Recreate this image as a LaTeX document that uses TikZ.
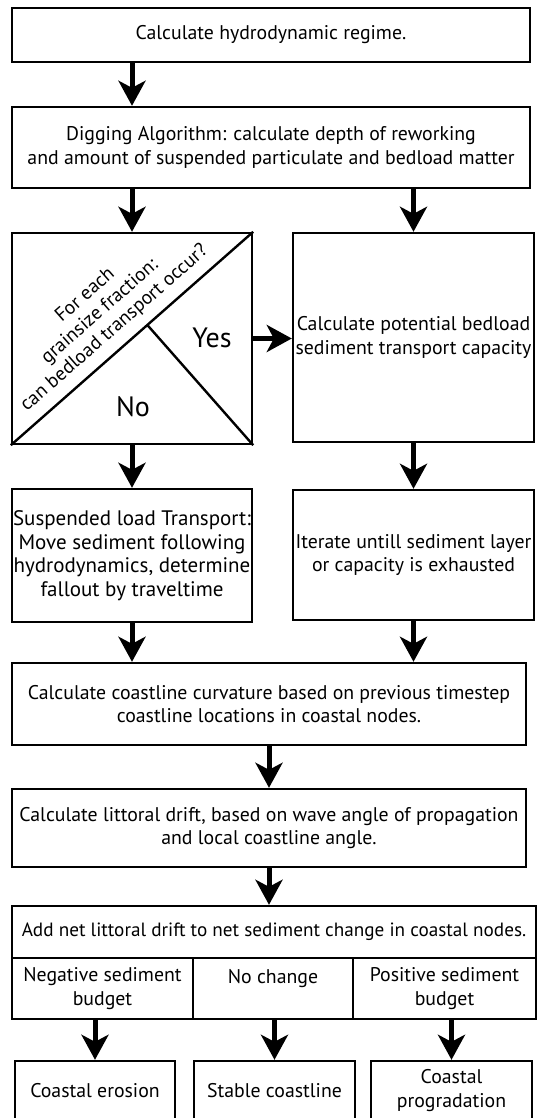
\documentclass[tikz,border=0pt]{standalone}
\usepackage{fontspec}
\setmainfont{PT Sans}
\usetikzlibrary{arrows.meta,calc}

\begin{document}
\begin{tikzpicture}[x=1pt,y=-1pt,
  box/.style={draw,line width=2.4pt,inner sep=0pt,align=center,
    font=\fontsize{19.8}{23.5}\selectfont},
  flow/.style={line width=5pt,-{Stealth[length=25pt,width=27pt,inset=7pt]}},
  big/.style={font=\fontsize{28}{30}\selectfont}]
\clip (0,0) rectangle (537,1118);
\node[box,minimum width=518pt,minimum height=54pt] (HYDRO) at (271,35) {Calculate hydrodynamic regime.};
\node[box,minimum width=518pt,minimum height=81pt] (DIG) at (271,147.5)
  {Digging Algorithm: calculate depth of reworking\\and amount of suspended particulate and bedload matter};
\node[box,minimum width=240pt,minimum height=211pt] (DEC) at (132,338.5) {};
\node[box,minimum width=241pt,minimum height=209pt] (BED) at (413.5,337.5)
  {Calculate potential bedload\\sediment transport capacity};
\node[box,minimum width=240pt,minimum height=133pt,font=\fontsize{21}{23.5}\selectfont] (SUSP) at (132,555.5)
  {Suspended load Transport:\\Move sediment following\\hydrodynamics, determine\\fallout by traveltime};
\node[box,minimum width=241pt,minimum height=130pt] (ITER) at (413.5,555)
  {Iterate untill sediment layer\\or capacity is exhausted};
\node[box,minimum width=514pt,minimum height=82pt] (CURV) at (269,704)
  {Calculate coastline curvature based on previous timestep\\coastline locations in coastal nodes.};
\node[box,minimum width=514pt,minimum height=78pt] (LITT) at (269,828)
  {Calculate littoral drift, based on wave angle of propagation\\and local coastline angle.};
\node[box,minimum width=524pt,minimum height=52pt,font=\fontsize{19.2}{23}\selectfont] (NET) at (274,932)
  {Add net littoral drift to net sediment change in coastal nodes.};
\node[box,minimum width=181pt,minimum height=61pt] (NEG) at (102.5,988.5) {Negative sediment\\budget};
\node[box,minimum width=160pt,minimum height=61pt] (NOCH) at (273,988.5) {No change\\\mbox{}};
\node[box,minimum width=183pt,minimum height=61pt] (POS) at (444.5,988.5) {Positive sediment\\budget};
\node[box,minimum width=160pt,minimum height=59pt] (ERO) at (95,1090.5) {Coastal erosion};
\node[box,minimum width=161pt,minimum height=59pt] (STAB) at (274.5,1090.5) {Stable coastline};
\node[box,minimum width=161pt,minimum height=59pt] (PROG) at (451.5,1090.5) {Coastal\\progradation};

\draw[line width=2.4pt] (DEC.south west) -- (DEC.north east)
  ($(DEC.south west)!(DEC.south east)!(DEC.north east)$) -- (DEC.south east);
\node[rotate=41.3,align=center,font=\fontsize{19.5}{22}\selectfont] (ASK) at (100,312)
  {For each\\grainsize fraction:\\can bedload transport occur?};
\node[big,anchor=base] (YES) at (212,347) {Yes};
\node[big,anchor=base] (NO) at (133,416) {No};

\draw[flow] (HYDRO.south -| DEC.north) -- (DIG.north -| DEC.north);
\draw[flow] (DIG.south -| DEC.north) -- (DEC.north);
\draw[flow] (DIG.south -| BED.north) -- (BED.north);
\draw[flow] (DEC.east) -- (BED.west |- DEC.east);
\draw[flow] (DEC.south) -- (SUSP.north);
\draw[flow] (BED.south) -- (ITER.north);
\draw[flow] (SUSP.south) -- (CURV.north -| SUSP.south);
\draw[flow] (ITER.south) -- (CURV.north -| ITER.south);
\draw[flow] (CURV.south) -- (LITT.north);
\draw[flow] (LITT.south) -- (NET.north -| LITT.south);
\draw[flow] (NEG.south -| ERO.north) -- (ERO.north);
\draw[flow] (NOCH.south -| STAB.north) -- (STAB.north);
\draw[flow] (POS.south -| PROG.north) -- (PROG.north);
\end{tikzpicture}
\end{document}
